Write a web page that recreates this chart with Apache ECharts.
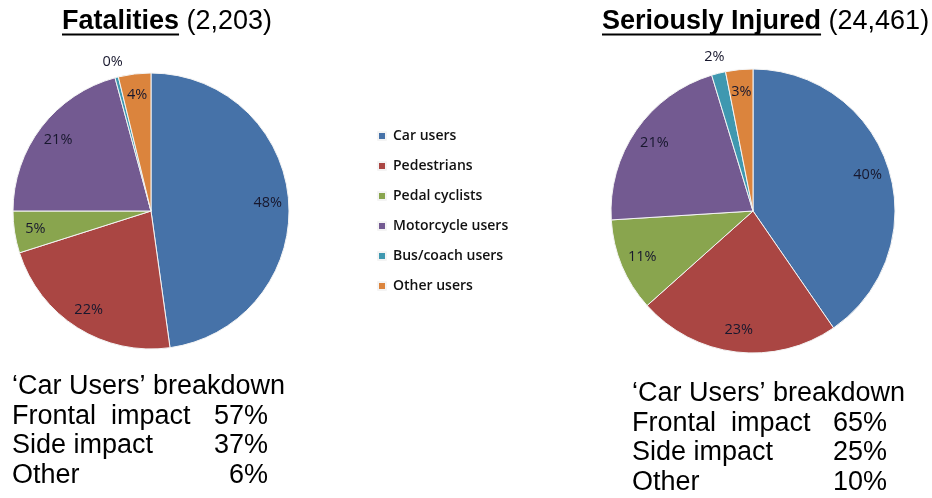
<!DOCTYPE html>
<html>
<head>
<meta charset="utf-8">
<script src="https://cdn.jsdelivr.net/npm/echarts@6/dist/echarts.min.js"></script>
<style>
  html, body { margin: 0; padding: 0; background: #fff; }
  #main { width: 932px; height: 498px; }
</style>
</head>
<body>
<div id="main"></div>
<script>
// road user groups, shares in %
const categories = ['Car users', 'Pedestrians', 'Pedal cyclists', 'Motorcycle users', 'Bus/coach users', 'Other users'];
const fatalShares = [47.8, 22.3, 4.9, 20.8, 0.4, 3.8];
const injuredShares = [40.4, 23.0, 10.6, 21.3, 1.6, 3.1];

const chartTitles = ['Fatalities', 'Seriously Injured'];
const chartTotals = ['(2,203)', '(24,461)'];

// 'Car Users' breakdown tables under each pie
const breakdownHead = '\u2018Car Users\u2019 breakdown';
const breakdownRows = ['Frontal  impact', 'Side impact', 'Other'];
const fatalBreakdown = ['57%', '37%', '6%'];
const injuredBreakdown = ['65%', '25%', '10%'];

const palette = ['#4672A8', '#AA4643', '#89A54E', '#735A91', '#3F98B0', '#DB843D'];
const smallIdx = 4; // bus/coach slice, label sits outside the pie

var chartDom = document.getElementById('main');
var myChart = echarts.init(chartDom);

var ctx = document.createElement('canvas').getContext('2d');
function textWidth(t, font) {
  ctx.font = font;
  return ctx.measureText(t).width;
}

var sansFont = '"Liberation Sans", Arial, sans-serif';
var labelStyle = {
  color: '#18182e',
  fontFamily: '"Open Sans", sans-serif',
  fontSize: 14.5,
  textBorderWidth: 0
};

function pieSeries(shares, center, r, labelR, smallR) {
  var data = categories.map(function (c, i) { return { name: c, value: shares[i] }; });
  var pct = function (p) { return Math.round(p.percent) + '%'; };
  return [
    {
      type: 'pie',
      center: center,
      radius: r,
      startAngle: 90,
      clockwise: true,
      avoidLabelOverlap: false,
      label: { show: false },
      labelLine: { show: false },
      itemStyle: { borderColor: '#f4f4f4', borderWidth: 1 },
      emphasis: { disabled: true },
      data: data
    },
    {
      // invisible twin, its 'inside' labels land near the rim of the real pie
      type: 'pie',
      center: center,
      radius: labelR * 2,
      startAngle: 90,
      silent: true,
      avoidLabelOverlap: false,
      itemStyle: { color: 'rgba(0,0,0,0)', borderWidth: 0 },
      label: Object.assign({
        position: 'inside',
        formatter: function (p) { return p.dataIndex === smallIdx ? '' : pct(p); }
      }, labelStyle),
      labelLine: { show: false },
      emphasis: { disabled: true },
      data: data
    },
    {
      type: 'pie',
      center: center,
      radius: smallR * 2,
      startAngle: 90,
      silent: true,
      avoidLabelOverlap: false,
      itemStyle: { color: 'rgba(0,0,0,0)', borderWidth: 0 },
      label: Object.assign({
        position: 'inside',
        formatter: function (p) { return p.dataIndex === smallIdx ? pct(p) : ''; }
      }, labelStyle),
      labelLine: { show: false },
      emphasis: { disabled: true },
      data: data
    }
  ];
}

// titles, underlines and breakdown tables
var graphics = [];
var titleX = [62, 602];
var boldFont = 'bold 27px ' + sansFont;
var normFont = '27px ' + sansFont;
chartTitles.forEach(function (t, k) {
  var w = textWidth(t, boldFont);
  var sp = textWidth(' ', normFont);
  graphics.push({
    type: 'text', x: titleX[k], y: 22,
    style: { text: t, font: boldFont, fill: '#000', verticalAlign: 'middle' }
  });
  graphics.push({
    type: 'text', x: titleX[k] + w + sp, y: 22,
    style: { text: chartTotals[k], font: normFont, fill: '#000', verticalAlign: 'middle' }
  });
  graphics.push({
    type: 'rect', shape: { x: titleX[k], y: 33.5, width: w, height: 2 },
    style: { fill: '#000' }
  });
});

var tables = [
  { x: 12, right: 268, y: 387, vals: fatalBreakdown },
  { x: 632, right: 887, y: 394, vals: injuredBreakdown }
];
var step = 29.4;
tables.forEach(function (tb) {
  graphics.push({
    type: 'text', x: tb.x, y: tb.y,
    style: { text: breakdownHead, font: normFont, fill: '#000', verticalAlign: 'middle' }
  });
  breakdownRows.forEach(function (row, i) {
    var y = tb.y + step * (i + 1);
    graphics.push({
      type: 'text', x: tb.x, y: y,
      style: { text: row, font: normFont, fill: '#000', verticalAlign: 'middle' }
    });
    graphics.push({
      type: 'text', x: tb.right, y: y,
      style: { text: tb.vals[i], font: normFont, fill: '#000', verticalAlign: 'middle', align: 'right' }
    });
  });
});

var option = {
  animation: false,
  backgroundColor: '#fff',
  color: palette,
  legend: {
    orient: 'vertical',
    left: 377,
    top: 128,
    padding: 0,
    itemWidth: 8,
    itemHeight: 8,
    itemGap: 14,
    icon: 'rect',
    data: categories,
    selectedMode: false,
    textStyle: {
      color: '#111',
      fontFamily: '"Open Sans", sans-serif',
      fontSize: 14,
      fontWeight: 600,
      lineHeight: 16,
      padding: [0, 0, 0, 2]
    }
  },
  graphic: graphics,
  series: [].concat(
    pieSeries(fatalShares, [151, 211], 138, 114, 151),
    pieSeries(injuredShares, [753, 211], 142, 117, 156)
  )
};

option && myChart.setOption(option);
</script>
</body>
</html>
